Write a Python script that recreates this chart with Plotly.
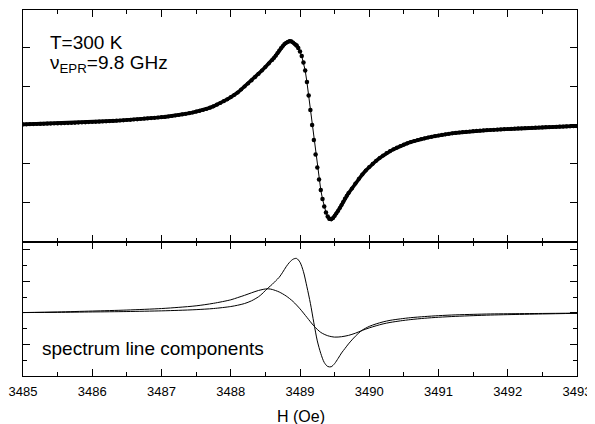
import plotly.graph_objects as go

# ---------------- data ----------------
# Top panel: measured EPR derivative spectrum (arb. units, baseline = 0),
# split into the low-field wing, the steep central part and the high-field wing.
H_TOP_LOW = [
    3485.00, 3485.05, 3485.10, 3485.15, 3485.20, 3485.25, 3485.30, 3485.35, 3485.40, 3485.45,
    3485.50, 3485.55, 3485.60, 3485.65, 3485.70, 3485.75, 3485.80, 3485.85, 3485.90, 3485.95,
    3486.00, 3486.05, 3486.10, 3486.15, 3486.20, 3486.25, 3486.30, 3486.35, 3486.40, 3486.45,
    3486.50, 3486.55, 3486.60, 3486.65, 3486.70, 3486.75, 3486.80, 3486.85, 3486.90, 3486.95,
    3487.00, 3487.05, 3487.10, 3487.15, 3487.20, 3487.25, 3487.30, 3487.35, 3487.40, 3487.45,
    3487.50, 3487.55, 3487.60, 3487.65, 3487.70, 3487.75, 3487.80, 3487.85, 3487.90, 3487.95,
    3488.00, 3488.05, 3488.10, 3488.15, 3488.20, 3488.25, 3488.30, 3488.35, 3488.40, 3488.45,
    3488.50, 3488.55, 3488.60,
    3488.625, 3488.650, 3488.675, 3488.700, 3488.725, 3488.750, 3488.775, 3488.800, 3488.825,
    3488.850, 3488.875, 3488.900, 3488.925, 3488.950,
]
SIG_TOP_LOW = [
    0.6, 0.7, 0.8, 0.9, 1.0, 1.1, 1.2, 1.3, 1.4, 1.5,
    1.6, 1.7, 1.8, 1.9, 2.0, 2.2, 2.4, 2.5, 2.7, 2.9,
    3.0, 3.2, 3.3, 3.5, 3.7, 3.9, 4.1, 4.3, 4.5, 4.7,
    5.0, 5.2, 5.5, 5.7, 6.0, 6.3, 6.6, 6.9, 7.2, 7.5,
    7.8, 8.1, 8.5, 9.0, 9.5, 10.0, 10.6, 11.2, 11.8, 12.5,
    13.3, 14.1, 15.0, 16.0, 17.3, 18.7, 20.3, 22.0, 23.8, 25.7,
    27.8, 30.0, 32.5, 35.5, 38.5, 41.5, 44.6, 47.8, 51.1, 54.5,
    58.0, 61.5, 65.0,
    67.0, 69.3, 71.8, 74.3, 76.8, 79.0, 80.8, 82.2, 83.2,
    83.8, 83.6, 82.5, 81.0, 79.5,
]
H_TOP_MID = [
    3488.950, 3488.975, 3489.000, 3489.025, 3489.050, 3489.075, 3489.100, 3489.125, 3489.150,
    3489.175, 3489.200, 3489.225, 3489.250, 3489.275, 3489.300, 3489.325, 3489.350, 3489.375,
    3489.400, 3489.425,
]
SIG_TOP_MID = [
    79.5, 77.0, 73.5, 69.0, 62.5, 54.5, 43.0, 29.5, 15.0,
    0.0, -15.0, -29.5, -42.5, -54.5, -65.0, -74.0, -81.5, -87.5,
    -91.5, -93.8,
]
H_TOP_HIGH = [
    3489.425, 3489.450, 3489.475, 3489.500, 3489.525, 3489.550, 3489.575, 3489.600, 3489.625,
    3489.650, 3489.675, 3489.700,
    3489.75, 3489.80, 3489.85, 3489.90, 3489.95, 3490.00, 3490.05, 3490.10, 3490.15, 3490.20,
    3490.25, 3490.30, 3490.35, 3490.40, 3490.45, 3490.50, 3490.55, 3490.60, 3490.65, 3490.70,
    3490.75, 3490.80, 3490.85, 3490.90, 3490.95, 3491.00, 3491.05, 3491.10, 3491.15, 3491.20,
    3491.25, 3491.30, 3491.35, 3491.40, 3491.45, 3491.50, 3491.55, 3491.60, 3491.65, 3491.70,
    3491.75, 3491.80, 3491.85, 3491.90, 3491.95, 3492.00, 3492.05, 3492.10, 3492.15, 3492.20,
    3492.25, 3492.30, 3492.35, 3492.40, 3492.45, 3492.50, 3492.55, 3492.60, 3492.65, 3492.70,
    3492.75, 3492.80, 3492.85, 3492.90, 3492.95, 3493.00,
]
SIG_TOP_HIGH = [
    -93.8, -94.3, -93.2, -91.0, -88.5, -86.0, -83.0, -80.0, -76.8,
    -73.5, -70.8, -68.2,
    -63.5, -58.5, -53.8, -49.5, -45.5, -42.0, -38.8, -35.8, -33.0, -30.5,
    -28.2, -26.2, -24.3, -22.6, -21.0, -19.6, -18.3, -17.1, -16.0, -15.0,
    -14.1, -13.3, -12.5, -11.8, -11.1, -10.5, -9.9, -9.3, -8.8, -8.3,
    -7.9, -7.5, -7.1, -6.8, -6.5, -6.2, -5.9, -5.7, -5.4, -5.2,
    -5.0, -4.8, -4.6, -4.4, -4.2, -4.0, -3.8, -3.6, -3.4, -3.3,
    -3.1, -3.0, -2.8, -2.7, -2.5, -2.4, -2.2, -2.1, -2.0, -1.8,
    -1.7, -1.6, -1.4, -1.3, -1.2, -1.1,
]

# Bottom panel: narrow component
H_NARROW = [
    3485.0, 3485.5, 3486.0, 3486.5, 3487.0, 3487.25, 3487.5, 3487.75, 3488.0, 3488.1,
    3488.2, 3488.3, 3488.4, 3488.45, 3488.5, 3488.55, 3488.6, 3488.65, 3488.7, 3488.75,
    3488.8, 3488.85, 3488.9, 3488.95, 3489.0, 3489.05, 3489.1, 3489.15, 3489.2, 3489.25,
    3489.3, 3489.35, 3489.4, 3489.45, 3489.5, 3489.55, 3489.6, 3489.65, 3489.7, 3489.75,
    3489.8, 3489.85, 3489.9, 3490.0, 3490.1, 3490.2, 3490.3, 3490.45, 3490.6, 3490.8,
    3491.0, 3491.25, 3491.5, 3491.75, 3492.0, 3492.5, 3493.0,
]
SIG_NARROW = [
    0.3, 0.5, 0.9, 1.3, 2.0, 2.5, 3.2, 4.3, 6.3, 7.6,
    9.3, 12.0, 16.0, 18.8, 22.3, 25.5, 28.5, 32.0, 35.5, 40.5,
    46.0, 50.5, 53.5, 54.3, 50.5, 41.0, 26.0, 9.5, -10.0, -28.0,
    -40.5, -49.5, -53.5, -53.8, -50.6, -45.5, -40.0, -35.5, -31.0, -27.0,
    -23.3, -20.0, -17.2, -13.5, -11.0, -9.0, -7.5, -6.0, -4.8, -3.7,
    -2.8, -2.0, -1.5, -1.1, -0.9, -0.6, -0.3,
]

# Bottom panel: broad component
H_BROAD = [
    3485.0, 3485.5, 3486.0, 3486.5, 3487.0, 3487.25, 3487.5, 3487.75, 3488.0, 3488.1,
    3488.2, 3488.3, 3488.4, 3488.5, 3488.55, 3488.6, 3488.7, 3488.8, 3488.9, 3489.0,
    3489.1, 3489.2, 3489.3, 3489.4, 3489.5, 3489.6, 3489.7, 3489.8, 3489.9, 3490.0,
    3490.1, 3490.2, 3490.3, 3490.45, 3490.6, 3490.8, 3491.0, 3491.25, 3491.5, 3491.75,
    3492.0, 3492.5, 3493.0,
]
SIG_BROAD = [
    0.3, 0.9, 1.8, 2.8, 4.3, 5.5, 7.0, 9.5, 13.0, 15.2,
    17.5, 20.0, 22.3, 23.8, 23.9, 23.3, 20.8, 16.8, 11.3, 4.0,
    -4.5, -13.0, -19.5, -22.8, -24.2, -23.8, -22.5, -20.3, -17.5, -15.0,
    -12.9, -11.0, -9.6, -8.0, -6.7, -5.4, -4.4, -3.5, -2.8, -2.2,
    -1.8, -1.1, -0.5,
]

X_TICKS = [3485, 3486, 3487, 3488, 3489, 3490, 3491, 3492, 3493]
X_TICK_TEXT = ["3485", "3486", "3487", "3488", "3489", "3490", "3491", "3492", "3493"]

# ---------------- figure ----------------
FONT = "Arial, Liberation Sans, Helvetica, sans-serif"
fig = go.Figure()

# thick wings (densely sampled points merge into a thick line)
for hx, sy in ((H_TOP_LOW, SIG_TOP_LOW), (H_TOP_HIGH, SIG_TOP_HIGH)):
    fig.add_trace(go.Scatter(
        x=hx, y=sy, xaxis="x2", yaxis="y2", mode="lines+markers",
        line=dict(color="black", width=3.6),
        marker=dict(color="black", size=4.2, line=dict(width=0)),
        showlegend=False, hoverinfo="skip"))
# steep centre: thin line with distinct points
fig.add_trace(go.Scatter(
    x=H_TOP_MID, y=SIG_TOP_MID, xaxis="x2", yaxis="y2", mode="lines+markers",
    line=dict(color="black", width=1),
    marker=dict(color="black", size=4.5, line=dict(width=0)),
    showlegend=False, hoverinfo="skip"))

for hx, sy in ((H_NARROW, SIG_NARROW), (H_BROAD, SIG_BROAD)):
    fig.add_trace(go.Scatter(
        x=hx, y=sy, xaxis="x", yaxis="y", mode="lines",
        line=dict(color="black", width=1, shape="spline", smoothing=0.8),
        showlegend=False, hoverinfo="skip"))

split = 0.367
axis_common = dict(showline=True, linecolor="black", linewidth=1.3, mirror="ticks",
                   ticks="inside", tickcolor="black", tickwidth=1.2,
                   showgrid=False, zeroline=False)

# the page body adds an 8 px offset, so the figure is 8 px smaller on each axis
fig.update_layout(
    width=587, height=416, autosize=False,
    margin=dict(l=15, r=18, t=2, b=48),
    paper_bgcolor="white", plot_bgcolor="white",
    font=dict(family=FONT, color="black"),
    hovermode=False,
    xaxis=dict(domain=[0, 1], anchor="y", range=[3485, 3493],
               tickvals=X_TICKS, ticktext=X_TICK_TEXT, ticklen=7,
               ticklabelstandoff=3,
               tickfont=dict(size=13, family=FONT),
               minor=dict(dtick=0.5, tick0=3485, ticklen=4, ticks="inside",
                          tickcolor="black", tickwidth=1.2, showgrid=False),
               **axis_common),
    xaxis2=dict(domain=[0, 1], anchor="y2", matches="x", range=[3485, 3493],
                tickvals=X_TICKS, showticklabels=False, ticklen=7,
                minor=dict(dtick=0.5, tick0=3485, ticklen=4, ticks="inside",
                           tickcolor="black", tickwidth=1.2, showgrid=False),
                **axis_common),
    yaxis=dict(domain=[0, split], anchor="x", range=[-63, 71],
               tick0=0, dtick=31.6, ticklen=7, showticklabels=False,
               minor=dict(dtick=15.8, tick0=0, ticklen=4, ticks="inside",
                          tickcolor="black", tickwidth=1.2, showgrid=False),
               **axis_common),
    yaxis2=dict(domain=[split, 1], anchor="x2", range=[-116.7, 115],
                tick0=0, dtick=38.75, ticklen=7, showticklabels=False,
                **axis_common),
)

fig.add_annotation(x=0.046, y=0.911, xref="paper", yref="paper",
                   text="T=300 K", showarrow=False, xanchor="left", yanchor="middle",
                   font=dict(size=19, family=FONT, color="black"))
fig.add_annotation(x=0.046, y=0.853, xref="paper", yref="paper",
                   text="ν<sub>EPR</sub>=9.8 GHz", showarrow=False,
                   xanchor="left", yanchor="middle",
                   font=dict(size=19, family=FONT, color="black"))
fig.add_annotation(x=0.031, y=0.074, xref="paper", yref="paper",
                   text="spectrum line components", showarrow=False,
                   xanchor="left", yanchor="middle",
                   font=dict(size=19, family=FONT, color="black"))
fig.add_annotation(x=0.502, y=-0.112, xref="paper", yref="paper",
                   text="H (Oe)", showarrow=False, xanchor="center", yanchor="middle",
                   font=dict(size=16, family=FONT, color="black"))

fig.write_html("out.html", config={"displayModeBar": False, "responsive": False})
